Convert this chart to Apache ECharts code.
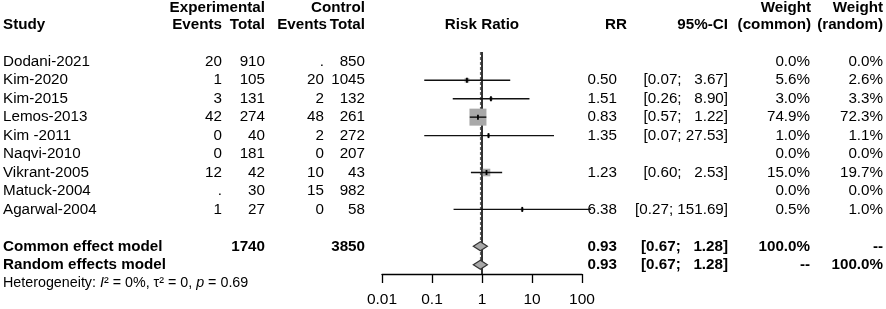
<!DOCTYPE html>
<html><head><meta charset="utf-8">
<script src="https://cdn.jsdelivr.net/npm/echarts@6/dist/echarts.min.js"></script>
<style>html,body{margin:0;padding:0;background:#fff}#c{width:886px;height:309px}</style>
</head><body><div id="c"></div>
<script>
// ---- data ----
const studies    = ['Dodani-2021','Kim-2020','Kim-2015','Lemos-2013','Kim -2011','Naqvi-2010','Vikrant-2005','Matuck-2004','Agarwal-2004'];
const expEvents  = ['20','1','3','42','0','0','12','.','1'];
const expTotal   = ['910','105','131','274','40','181','42','30','27'];
const ctrlEvents = ['.','20','2','48','2','0','10','15','0'];
const ctrlTotal  = ['850','1045','132','261','272','207','43','982','58'];
const rr         = [null,0.50,1.51,0.83,1.35,null,1.23,null,6.38];
const lower      = [null,0.07,0.26,0.57,0.07,null,0.60,null,0.27];
const upper      = [null,3.67,8.90,1.22,27.53,null,2.53,null,151.69];
const wCommon    = [0.0,5.6,3.0,74.9,1.0,0.0,15.0,0.0,0.5];
const wRandom    = [0.0,2.6,3.3,72.3,1.1,0.0,19.7,0.0,1.0];

const pooledLabels    = ['Common effect model','Random effects model'];
const pooledExpTotal  = ['1740',''];
const pooledCtrlTotal = ['3850',''];
const pooledRR        = [0.93,0.93];
const pooledLower     = [0.67,0.67];
const pooledUpper     = [1.28,1.28];
const pooledWCommon   = ['100.0%','--'];
const pooledWRandom   = ['--','100.0%'];
const hetI2 = '0%', hetTau2 = '0', hetP = '0.69';
const xTicks = [0.01,0.1,1,10,100];
const nullValue = 1;

// ---- layout ----
const FONT = '"Liberation Sans", Arial, sans-serif';
const FS = 15.2;
const COL = {study:3, expEv:222, expTot:265, ctlEv:324, ctlTot:365, rr:617, ci:728, wc:810, wr:883};
const maxW = Math.max(...wCommon);

function fmtCI(l,u){
  const us = u.toFixed(2);
  const pad = us.length >= 5 ? ' ' : '   ';
  return '[' + l.toFixed(2) + ';' + pad + us + ']';
}
function txt(x,y,s,align,bold,size){
  return {type:'text', style:{x:x, y:y, text:s, align:align, verticalAlign:'middle',
    font:(bold?'bold ':'') + (size||FS) + 'px ' + FONT, fill:'#000'}};
}

const studyRows = studies.map((s,i)=>[1,i]);
const pooledRows = pooledLabels.map((s,i)=>[1,10+i]);
const studyMarks = [];
rr.forEach((v,i)=>{ if(v!=null) studyMarks.push([v, lower[i], upper[i], i, wCommon[i]]); });
const diamonds = pooledRR.map((v,i)=>[v, pooledLower[i], pooledUpper[i], 10+i]);

const chart = echarts.init(document.getElementById('c'), null, {renderer:'canvas'});
chart.setOption({
  animation:false,
  grid:{left:382, width:200, top:52, height:222},
  xAxis:{type:'log', logBase:10, min:0.01, max:100, splitNumber:4, position:'bottom',
    axisLine:{show:true, onZero:false, lineStyle:{color:'#000', width:1.3}},
    axisTick:{show:true, length:9, lineStyle:{color:'#000', width:1.3}},
    axisLabel:{margin:18, color:'#000', fontSize:15.5, fontFamily:FONT,
      formatter:v=>{ const t = xTicks.find(x=>Math.abs(Math.log10(x)-Math.log10(v))<1e-6); return t!=null ? String(t) : ''; }},
    splitLine:{show:false}},
  yAxis:{type:'value', inverse:true, min:-0.53, max:11.5, show:false},
  graphic:[
    txt(COL.study,25,'Study','left',true),
    txt(COL.expTot,8,'Experimental','right',true),
    txt(COL.expEv,25,'Events','right',true),
    txt(COL.expTot,25,'Total','right',true),
    txt(COL.ctlTot,8,'Control','right',true),
    txt(COL.ctlEv+3,25,'Events','right',true),
    txt(COL.ctlTot,25,'Total','right',true),
    txt(482,25,'Risk Ratio','center',true),
    txt(COL.rr+10,25,'RR','right',true),
    txt(COL.ci,25,'95%-CI','right',true),
    txt(COL.wc+1,8,'Weight','right',true),
    txt(COL.wc+1,25,'(common)','right',true),
    txt(COL.wr,8,'Weight','right',true),
    txt(COL.wr,25,'(random)','right',true)
  ],
  series:[
    { // reference lines
      type:'custom', clip:false, silent:true, z:1,
      data:[[nullValue, 0], [pooledRR[0], 1]],
      renderItem:(params, api)=>{
        const x = api.value(0), kind = api.value(1);
        const top = api.coord([x,-0.53]);
        const bot = kind===0 ? api.coord([x,11.5]) : api.coord([x,11]);
        return {type:'line', shape:{x1:top[0],y1:top[1],x2:bot[0],y2:bot[1]},
          style: kind===0 ? {stroke:'#000', lineWidth:1.6} : {stroke:'#555', lineWidth:1, lineDash:[3,2]}};
      }
    },
    { // study squares + CIs
      type:'custom', clip:false, silent:true, z:3,
      data:studyMarks,
      renderItem:(params, api)=>{
        const p = api.coord([api.value(0), api.value(3)]);
        const l = api.coord([api.value(1), api.value(3)]);
        const u = api.coord([api.value(2), api.value(3)]);
        const s = Math.max(3, 17*Math.sqrt(api.value(4)/maxW));
        return {type:'group', children:[
          {type:'rect', shape:{x:p[0]-s/2, y:p[1]-s/2, width:s, height:s}, style:{fill:'#a8a8a8'}},
          {type:'line', shape:{x1:l[0],y1:p[1],x2:u[0],y2:p[1]}, style:{stroke:'#111', lineWidth:1.4}},
          {type:'line', shape:{x1:p[0],y1:p[1]-2.5,x2:p[0],y2:p[1]+2.5}, style:{stroke:'#000', lineWidth:1.8}}
        ]};
      }
    },
    { // pooled diamonds
      type:'custom', clip:false, silent:true, z:3,
      data:diamonds,
      renderItem:(params, api)=>{
        const p = api.coord([api.value(0), api.value(3)]);
        const l = api.coord([api.value(1), api.value(3)]);
        const u = api.coord([api.value(2), api.value(3)]);
        const h = 4.5;
        return {type:'polygon', shape:{points:[[l[0],p[1]],[p[0],p[1]-h],[u[0],p[1]],[p[0],p[1]+h]]},
          style:{fill:'#a8a8a8', stroke:'#333', lineWidth:1.2}};
      }
    },
    { // study table text
      type:'custom', clip:false, silent:true, z:2,
      data:studyRows,
      renderItem:(params, api)=>{
        const i = params.dataIndex;
        const y = api.coord([1, api.value(1)])[1];
        const ch = [
          txt(COL.study,y,studies[i],'left'),
          txt(COL.expEv,y,expEvents[i],'right'),
          txt(COL.expTot,y,expTotal[i],'right'),
          txt(COL.ctlEv,y,ctrlEvents[i],'right'),
          txt(COL.ctlTot,y,ctrlTotal[i],'right'),
          txt(COL.wc,y,wCommon[i].toFixed(1)+'%','right'),
          txt(COL.wr,y,wRandom[i].toFixed(1)+'%','right')
        ];
        if(rr[i]!=null){
          ch.push(txt(COL.rr,y,rr[i].toFixed(2),'right'));
          ch.push(txt(COL.ci,y,fmtCI(lower[i],upper[i]),'right'));
        }
        return {type:'group', children:ch};
      }
    },
    { // pooled table text + heterogeneity
      type:'custom', clip:false, silent:true, z:2,
      data:pooledRows,
      renderItem:(params, api)=>{
        const i = params.dataIndex;
        const y = api.coord([1, api.value(1)])[1];
        const ch = [
          txt(COL.study,y,pooledLabels[i],'left',true),
          txt(COL.expTot,y,pooledExpTotal[i],'right',true),
          txt(COL.ctlTot,y,pooledCtrlTotal[i],'right',true),
          txt(COL.rr,y,pooledRR[i].toFixed(2),'right',true),
          txt(COL.ci,y,fmtCI(pooledLower[i],pooledUpper[i]),'right',true),
          txt(COL.wc,y,pooledWCommon[i],'right',true),
          txt(COL.wr,y,pooledWRandom[i],'right',true)
        ];
        if(i===pooledRows.length-1){
          const yh = api.coord([1, api.value(1)+1])[1];
          const f = '14.3px ' + FONT, fi = 'italic 14.3px ' + FONT;
          ch.push({type:'text', style:{x:COL.study, y:yh, align:'left', verticalAlign:'middle', fill:'#000', font:f,
            text:'Heterogeneity: {i|I}\u00b2 = ' + hetI2 + ', \u03c4\u00b2 = ' + hetTau2 + ', {i|p} = ' + hetP,
            rich:{i:{font:fi, fill:'#000'}}}});
        }
        return {type:'group', children:ch};
      }
    }
  ]
});
</script></body></html>
